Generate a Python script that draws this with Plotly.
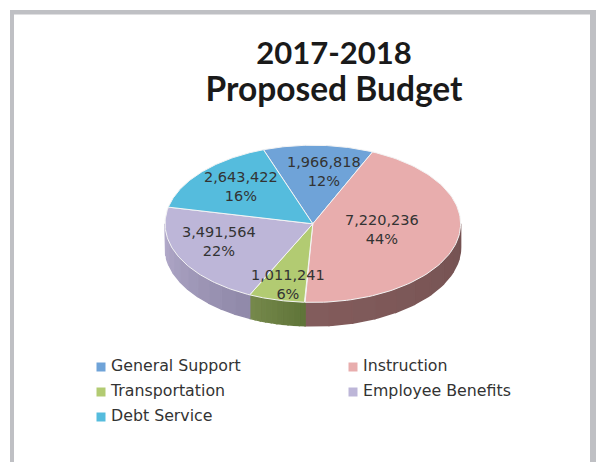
import numpy as np
import plotly.graph_objects as go

categories = ["General Support", "Instruction", "Transportation", "Employee Benefits", "Debt Service"]
values = [1966818, 7220236, 1011241, 3491564, 2643422]
value_labels = ["1,966,818", "7,220,236", "1,011,241", "3,491,564", "2,643,422"]
percent_labels = ["12%", "44%", "6%", "22%", "16%"]

top_colors = ["#6FA3D8", "#E8ADAD", "#B2CB72", "#BDB6D8", "#55BCDD"]
side_left = ["#4F78A5", "#835C5C", "#76894C", "#B3ABCB", "#3F8CA5"]
side_right = ["#4F78A5", "#745252", "#5F7438", "#8F88A8", "#3F8CA5"]

# Pixel-based layout of the tilted pie
CX, CY, RX, RY, DEPTH = 312.8, 223.8, 147.8, 78.6, 23.5
START_DEG = -19.5
label_anchors = [(324, 171), (382, 229.5), (288, 284.5), (219, 241.5), (241, 186.5)]
legend_swatches = [(101, 367), (353, 367), (101, 392), (353, 392), (101, 417)]
LEGEND_GAP = 10
TEXT = "#333333"


def point(deg, dy=0.0):
    a = np.radians(deg)
    return CX + RX * np.sin(a), CY - RY * np.cos(a) + dy


def mix(c1, c2, t):
    a = [int(c1[i:i + 2], 16) for i in (1, 3, 5)]
    b = [int(c2[i:i + 2], 16) for i in (1, 3, 5)]
    return "rgb(%d,%d,%d)" % tuple(round(p + (q - p) * t) for p, q in zip(a, b))


shares = np.array(values, dtype=float) / sum(values)
edges = START_DEG + np.concatenate([[0], np.cumsum(shares)]) * 360

fig = go.Figure()

# Side wall: only the front half of the rim (90..270 deg clockwise from the top)
for i, name in enumerate(categories):
    lo, hi = max(edges[i], 90.0), min(edges[i + 1], 270.0)
    if hi <= lo:
        continue
    bands = np.linspace(lo, hi, 11)
    for k in range(len(bands) - 1):
        arc = np.linspace(bands[k], bands[k + 1], 8)
        x, y = point(arc)
        xb, yb = point(arc[::-1], DEPTH)
        # t runs left -> right on the page: high angles are to the left
        t = 1 - (k + 0.5) / (len(bands) - 1)
        shade = mix(side_left[i], side_right[i], t)
        fig.add_trace(go.Scatter(
            x=np.r_[x, xb, x[0]], y=np.r_[y, yb, y[0]],
            mode="lines", fill="toself", fillcolor=shade,
            line=dict(width=1.5, color=shade),
            hoverinfo="skip", showlegend=False))

# Top face
for i, name in enumerate(categories):
    arc = np.linspace(edges[i], edges[i + 1], 90)
    x, y = point(arc)
    fig.add_trace(go.Scatter(
        x=np.r_[CX, x, CX], y=np.r_[CY, y, CY],
        mode="lines", fill="toself", fillcolor=top_colors[i],
        line=dict(width=1, color="#F4F4F4"),
        name=name, text=f"{value_labels[i]} ({percent_labels[i]})",
        hoverinfo="name+text", showlegend=False))

# Legend swatches and labels
for i, name in enumerate(categories):
    sx, sy = legend_swatches[i]
    fig.add_trace(go.Scatter(
        x=[sx], y=[sy], mode="markers",
        marker=dict(symbol="square", size=9, color=top_colors[i]),
        hoverinfo="skip", showlegend=False))
    fig.add_trace(go.Scatter(
        x=[sx + LEGEND_GAP], y=[sy], mode="text", text=[name],
        textposition="middle right",
        textfont=dict(family="DejaVu Sans", size=15.8, color=TEXT),
        hoverinfo="skip", showlegend=False))

annotations = [
    dict(x=ax, y=ay, xref="x", yref="y", showarrow=False, align="center",
         text=f"{value_labels[i]}<br>{percent_labels[i]}",
         font=dict(family="DejaVu Sans", size=14.5, color=TEXT))
    for i, (ax, ay) in enumerate(label_anchors)
]

frame = "#BFC0C4"
shapes = [
    dict(type="rect", xref="paper", yref="paper", x0=10 / 596, x1=14 / 596, y0=0, y1=1 - 10 / 462,
         fillcolor=frame, line_width=0, layer="below"),
    dict(type="rect", xref="paper", yref="paper", x0=10 / 596, x1=1, y0=1 - 14.5 / 462, y1=1 - 10 / 462,
         fillcolor=frame, line_width=0, layer="below"),
    dict(type="rect", xref="paper", yref="paper", x0=590 / 596, x1=1, y0=0, y1=1 - 10 / 462,
         fillcolor=frame, line_width=0, layer="below"),
]

fig.update_layout(
    width=596, height=462,
    margin=dict(l=0, r=0, t=0, b=0),
    paper_bgcolor="white", plot_bgcolor="white",
    showlegend=False,
    title=dict(
        text='<b><span style="font-size:31px">2017-2018</span><br>'
             '<span style="font-size:33.5px">Proposed Budget</span></b>',
        x=334 / 596, xanchor="center", y=1 - 64 / 462, yanchor="middle", yref="container",
        font=dict(family="Lato", size=28.5, color="#1A1A1A")),
    xaxis=dict(range=[0, 596], visible=False, fixedrange=True),
    yaxis=dict(range=[462, 0], visible=False, fixedrange=True),
    annotations=annotations, shapes=shapes,
)
fig.write_html("out.html", config=dict(displayModeBar=False),
               post_script="document.body.style.margin='0';document.documentElement.style.overflow='hidden';")
